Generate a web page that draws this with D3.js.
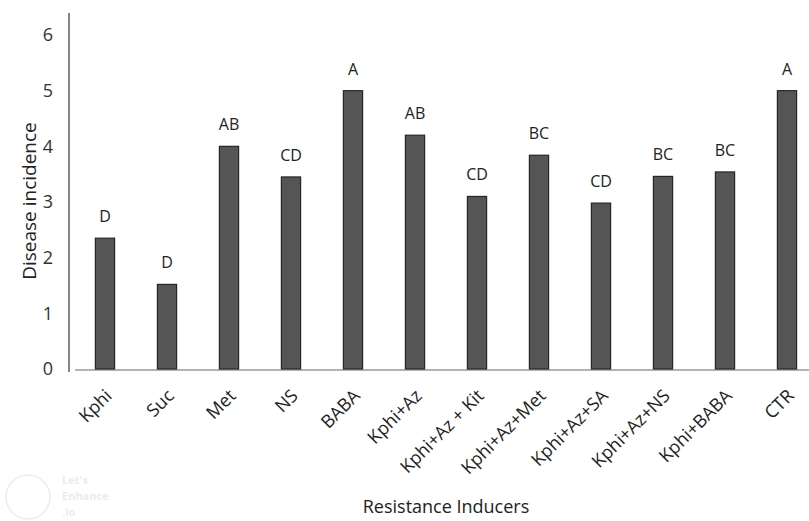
<!DOCTYPE html>
<html>
<head>
<meta charset="utf-8">
<script src="https://cdn.jsdelivr.net/npm/d3@7"></script>
<style>
  html, body { margin: 0; padding: 0; background: #fff; }
  svg { display: block; }
</style>
</head>
<body>
<svg id="chart"></svg>
<script>
const categories = ["Kphi", "Suc", "Met", "NS", "BABA", "Kphi+Az", "Kphi+Az + Kit",
  "Kphi+Az+Met", "Kphi+Az+SA", "Kphi+Az+NS", "Kphi+BABA", "CTR"];
const incidence = [2.35, 1.52, 4.0, 3.45, 5.0, 4.2, 3.1, 3.84, 2.98, 3.46, 3.54, 5.0];
const letters = ["D", "D", "AB", "CD", "A", "AB", "CD", "BC", "CD", "BC", "BC", "A"];
const yTicks = [0, 1, 2, 3, 4, 5, 6];

const W = 809, H = 521;
const FONT = "'Open Sans', Lato, sans-serif";

const svg = d3.select("#chart").attr("width", W).attr("height", H);

const x = d3.scaleBand().domain(categories).range([74, 818]).paddingInner(0.69).paddingOuter(0.345);
const y = d3.scaleLinear().domain([0, 6]).range([369, 35]);

// baseline
svg.append("line")
  .attr("x1", 75).attr("x2", W).attr("y1", y(0) + 1).attr("y2", y(0) + 1)
  .attr("stroke", "#9a9a9a").attr("stroke-width", 1.5);

// bars
svg.selectAll(".bar")
  .data(categories).join("rect")
  .attr("class", "bar")
  .attr("x", d => x(d))
  .attr("width", x.bandwidth())
  .attr("y", (d, i) => y(incidence[i]))
  .attr("height", (d, i) => y(0) - y(incidence[i]))
  .attr("fill", "#555555")
  .attr("stroke", "#262626").attr("stroke-width", 1.2);

// letters
svg.selectAll(".grp")
  .data(categories).join("text")
  .attr("class", "grp")
  .attr("x", d => x(d) + x.bandwidth() / 2)
  .attr("y", (d, i) => y(incidence[i]) - 16)
  .attr("text-anchor", "middle")
  .style("font-family", FONT).style("font-size", "16px").style("fill", "#222")
  .text((d, i) => letters[i]);

// y axis
svg.append("g")
  .attr("transform", "translate(69,0)")
  .call(d3.axisLeft(y).tickValues(yTicks).tickFormat(d3.format("d")).tickSize(0).tickPadding(16))
  .call(ax => {
    ax.select(".domain").attr("d", `M0,13V${y(0) + 3}`).attr("stroke", "#333").attr("stroke-width", 1.2);
    ax.selectAll(".tick text").style("font-family", FONT).style("font-size", "18px").style("fill", "#333");
  });

// x labels
svg.selectAll(".xl")
  .data(categories).join("text")
  .attr("class", "xl")
  .attr("transform", d => `translate(${x(d) + x.bandwidth() / 2 + 8},${y(0) + 28}) rotate(-45)`)
  .attr("text-anchor", "end")
  .style("font-family", FONT).style("font-size", "18px").style("fill", "#222")
  .text(d => d);

// axis titles
svg.append("text")
  .attr("transform", `translate(36,201) rotate(-90)`)
  .attr("text-anchor", "middle")
  .style("font-family", FONT).style("font-size", "19px").style("fill", "#222")
  .text("Disease incidence");

svg.append("text")
  .attr("x", 446).attr("y", 513)
  .attr("text-anchor", "middle")
  .style("font-family", FONT).style("font-size", "18px").style("fill", "#222")
  .text("Resistance Inducers");

// faint watermark
const wm = svg.append("g").attr("opacity", 0.12);
wm.append("circle").attr("cx", 28).attr("cy", 497).attr("r", 22)
  .attr("fill", "none").attr("stroke", "#666").attr("stroke-width", 1.5);
["Let's", "Enhance", ".io"].forEach((t, i) => {
  wm.append("text").attr("x", 62).attr("y", 484 + i * 16)
    .style("font-family", FONT).style("font-size", "11px").style("font-weight", "700").style("fill", "#666")
    .text(t);
});
</script>
</body>
</html>
